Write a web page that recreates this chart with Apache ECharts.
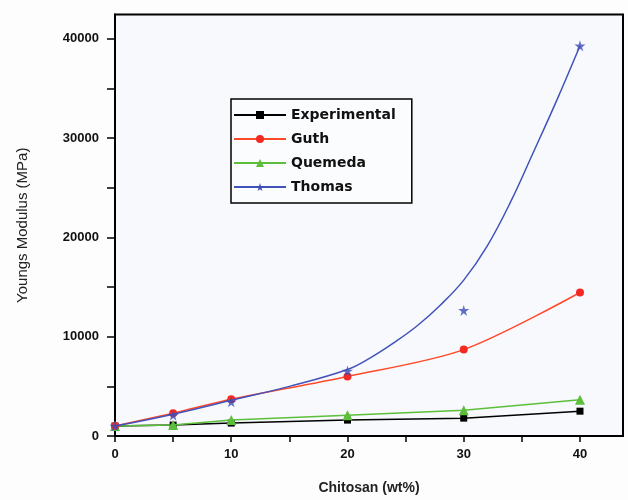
<!DOCTYPE html>
<html>
<head>
<meta charset="utf-8">
<script src="https://cdn.jsdelivr.net/npm/echarts@6/dist/echarts.min.js"></script>
<style>
html,body{margin:0;padding:0;background:#fdfdfe;}
#c{width:628px;height:500px;}
</style>
</head>
<body>
<div id="c"></div>
<script>
const xVals = [0, 5, 10, 20, 30, 40];
const experimental = [1000, 1100, 1300, 1600, 1800, 2500];
const guth = [1000, 2300, 3700, 6000, 8700, 14450];
const quemeda = [1000, 1100, 1600, 2100, 2600, 3650];
const thomasPts = [1000, 2100, 3450, 6550, 12650, 39300];
const thomasFitX = [0, 5, 10, 15, 20, 22, 24, 26, 28, 30, 32, 34, 36, 38, 40];
const thomasFitY = [1000, 2200, 3600, 5000, 6700, 7900, 9400, 11100, 13200, 15700, 19100, 23500, 28600, 33800, 39300];
const xLabelVals = [0, 10, 20, 30, 40];
const xTickVals = [0, 5, 10, 15, 20, 25, 30, 35, 40];
const yLabelVals = [0, 10000, 20000, 30000, 40000];
const yTickVals = [0, 5000, 10000, 15000, 20000, 25000, 30000, 35000, 40000];

const pair = (xs, ys) => xs.map((x, i) => [x, ys[i]]);
const star = 'path://M50,0 L61,35 L98,35 L68,57 L79,91 L50,70 L21,91 L32,57 L2,35 L39,35 Z';
const FONT = 'Liberation Sans, Arial';

const chart = echarts.init(document.getElementById('c'), null, {renderer: 'canvas'});
chart.setOption({
  animation: false,
  backgroundColor: '#fdfdfe',
  grid: {left: 115, right: 5, top: 14.5, bottom: 61, show: true, borderColor: '#000', borderWidth: 2, backgroundColor: '#f8f9fc'},
  legend: {
    orient: 'vertical', left: 231, top: 99,
    data: ['Experimental', 'Guth', 'Quemeda', 'Thomas'],
    borderColor: '#000', borderWidth: 1.5, backgroundColor: '#fbfcfe',
    padding: [9, 16, 9, 2], itemWidth: 52, itemHeight: 10, itemGap: 10,
    textStyle: {fontFamily: 'DejaVu Sans', fontWeight: 'bold', fontSize: 14, color: '#111'}
  },
  xAxis: {
    type: 'value', min: 0, max: 43.7,
    name: 'Chitosan (wt%)', nameLocation: 'middle', nameGap: 45,
    nameTextStyle: {fontFamily: FONT, fontWeight: 'bold', fontSize: 14, color: '#222'},
    axisLine: {lineStyle: {color: '#000', width: 2}},
    axisTick: {customValues: xTickVals, length: 6, lineStyle: {color: '#000', width: 1.5}},
    axisLabel: {customValues: xLabelVals, margin: 12, fontFamily: FONT, fontWeight: 'bold', fontSize: 13, color: '#111'},
    splitLine: {show: false}
  },
  yAxis: {
    type: 'value', min: 0, max: 42450,
    name: 'Youngs Modulus (MPa)', nameLocation: 'middle', nameGap: 85,
    nameTextStyle: {fontFamily: FONT, fontSize: 15, color: '#222'},
    axisLine: {lineStyle: {color: '#000', width: 2}},
    axisTick: {customValues: yTickVals, length: 8, lineStyle: {color: '#000', width: 1.5}},
    axisLabel: {customValues: yLabelVals, margin: 16, formatter: v => String(v), fontFamily: FONT, fontWeight: 'bold', fontSize: 13, color: '#111'},
    splitLine: {show: false}
  },
  series: [
    {name: 'Experimental', type: 'line', data: pair(xVals, experimental), symbol: 'rect', symbolSize: 7,
     itemStyle: {color: '#000'}, lineStyle: {color: '#000', width: 1.5}, z: 2},
    {name: 'Quemeda', type: 'line', data: pair(xVals, quemeda), symbol: 'triangle', symbolSize: 10,
     itemStyle: {color: '#5cbf3c'}, lineStyle: {color: '#5cbf3c', width: 1.5}, z: 3},
    {name: 'Guth', type: 'line', data: pair(xVals, guth), symbol: 'circle', symbolSize: 8, smooth: 0.3,
     itemStyle: {color: '#f22a22'}, lineStyle: {color: '#ff4a2a', width: 1.5}, z: 4},
    {name: 'Thomas', type: 'line', data: pair(thomasFitX, thomasFitY), symbol: star, symbolSize: 11, showSymbol: false, smooth: 0.4,
     itemStyle: {color: '#3c4db5'}, lineStyle: {color: '#4252bb', width: 1.5}, z: 5},
    {name: 'Thomas points', type: 'scatter', data: pair(xVals, thomasPts), symbol: star, symbolSize: 11,
     itemStyle: {color: '#3c4db5'}, z: 6}
  ]
});
</script>
</body>
</html>
